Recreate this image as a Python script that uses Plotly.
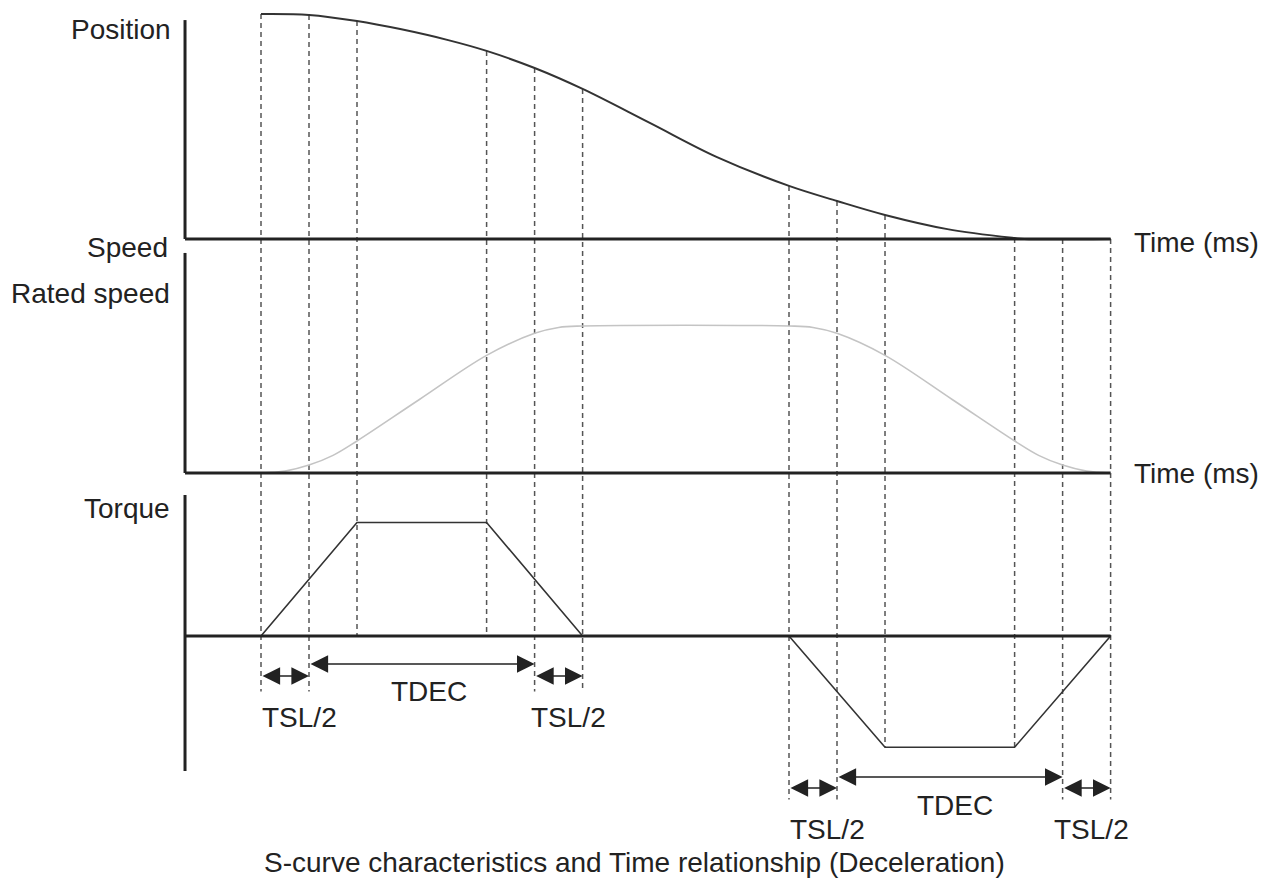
import numpy as np
import plotly.graph_objects as go

# time marks (ms) where the dashed guide lines sit
t_marks = [0, 10, 20, 47, 57, 67, 110, 120, 130, 157, 167, 177]

# position (% of travel remaining)
pos_t = [0, 10, 20, 29, 39, 47, 57, 67, 81, 95, 110, 120, 130, 143, 157, 159, 177]
pos_v = [100, 99.6, 96.9, 93.3, 88.4, 83.6, 76, 66.7, 51.6, 36.4, 23.6, 16.9, 10.7, 4.4, 0.4, 0, 0]

# speed (% of rated speed)
speed_t = [0, 5, 10, 15, 20, 33, 47, 57, 62, 67, 110, 115, 120, 130, 144, 157, 162, 167, 172, 177]
speed_v = [0, 1.3, 5.4, 12, 21.8, 50, 80, 95, 99, 100, 100, 99, 95, 80, 50, 21.8, 12, 5.4, 1.3, 0]

# torque (% of peak)
torque_t = [0, 20, 47, 67, 110, 130, 157, 177]
torque_v = [0, 100, 100, 0, 0, -98, -98, 0]

# the page body adds an 8px margin, so the figure is 1260x882
W, H, OFF = 1260, 882, 8

# axis ranges (time axis spans the whole canvas, panels overlay each other)
x_rng = [-52.708, 209.79]
y_rng = {"y": [-289.33, 102.67], "y2": [-283.67, 316.33], "y3": [-223.79, 553.30]}
t_axis = -15.83

INK = "#222222"
FONT = dict(family="Liberation Sans, Arial, sans-serif", size=28, color=INK)


def to_paper(ref, v):
    r0, r1 = y_rng[ref]
    return (v - r0) / (r1 - r0)


fig = go.Figure()
fig.add_trace(go.Scatter(x=pos_t, y=pos_v, yaxis="y", mode="lines",
                         line=dict(color="#333333", width=2, shape="spline")))
fig.add_trace(go.Scatter(x=speed_t, y=speed_v, yaxis="y2", mode="lines",
                         line=dict(color="#c4c4c4", width=1.6, shape="spline")))
fig.add_trace(go.Scatter(x=torque_t, y=torque_v, yaxis="y3", mode="lines",
                         line=dict(color="#333333", width=1.6)))

shapes = []
# axis lines of the three panels
for ref, lo, hi in [("y", 0, 97.3), ("y2", 0, 149.7), ("y3", -118.9, 124.2)]:
    shapes.append(dict(type="line", xref="x", yref=ref, x0=t_axis, x1=t_axis,
                       y0=lo, y1=hi, line=dict(color=INK, width=3)))
    shapes.append(dict(type="line", xref="x", yref=ref, x0=t_axis, x1=t_marks[-1],
                       y0=0, y1=0, line=dict(color=INK, width=3)))

# dashed guide lines from the position curve down to the arrows / torque line
dash_bottom = [-49, -49, 0, 0, -49, -49, -144, -144, -98, -98, -144, -144]
tops = np.interp(t_marks, pos_t, pos_v)
for t, top, bottom in zip(t_marks, tops, dash_bottom):
    shapes.append(dict(type="line", xref="x", yref="paper", x0=t, x1=t,
                       y0=to_paper("y", top), y1=to_paper("y3", bottom),
                       line=dict(color="#555555", width=1.5, dash="5px,4px"), layer="below"))

annotations = []
# interval arrows
spans = [(0, 10, -35.2), (10, 57, -24.7), (57, 67, -35.2),
         (110, 120, -133.9), (120, 167, -124.2), (167, 177, -133.9)]
for a, b, y in spans:
    annotations.append(dict(x=b, y=y, ax=a, ay=y, xref="x", yref="y3", axref="x", ayref="y3",
                            text="", showarrow=True, arrowside="end+start", arrowhead=2,
                            arrowsize=2.2, arrowwidth=1.6, arrowcolor=INK,
                            standoff=0, startstandoff=0))

labels = [("TSL/2", 8, -71.4), ("TDEC", 35, -49.3), ("TSL/2", 64, -71.4),
          ("TSL/2", 118, -170.9), ("TDEC", 144.6, -148.9), ("TSL/2", 173, -170.9)]
for txt, x, y in labels:
    annotations.append(dict(x=x, y=y, xref="x", yref="y3", text=txt, showarrow=False,
                            font=FONT, xanchor="center", yanchor="middle"))

side = [("Position", 173, 29, "right"), ("Speed", 170, 247, "right"),
        ("Rated speed", 172, 293, "right"), ("Torque", 172, 509, "right"),
        ("Time (ms)", 1132, 242, "left"), ("Time (ms)", 1132, 473, "left"),
        ("S-curve characteristics and Time relationship (Deceleration)", 634, 862, "center")]
for txt, px, py, anc in side:
    annotations.append(dict(x=(px - OFF) / W, y=1 - (py - OFF) / H, xref="paper", yref="paper",
                            text=txt, showarrow=False, font=FONT,
                            xanchor=anc, yanchor="middle"))

hidden = dict(visible=False, showgrid=False, zeroline=False)
fig.update_layout(
    width=W, height=H, margin=dict(l=0, r=0, t=0, b=0),
    paper_bgcolor="white", plot_bgcolor="white", showlegend=False,
    xaxis=dict(range=x_rng, domain=[0, 1], **hidden),
    yaxis=dict(range=y_rng["y"], domain=[0, 1], **hidden),
    yaxis2=dict(range=y_rng["y2"], domain=[0, 1], overlaying="y", **hidden),
    yaxis3=dict(range=y_rng["y3"], domain=[0, 1], overlaying="y", **hidden),
    shapes=shapes, annotations=annotations,
)
fig.write_html("out.html")
